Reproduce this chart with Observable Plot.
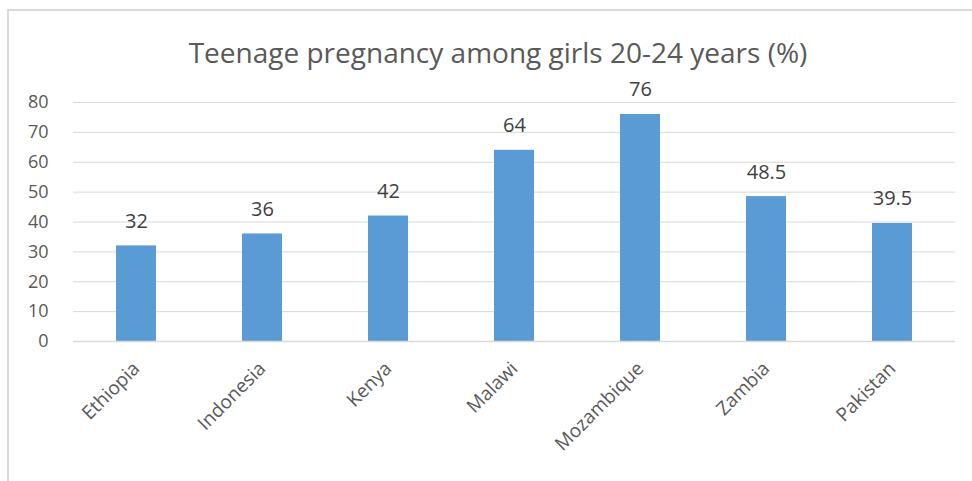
<!DOCTYPE html>
<html>
<head>
<meta charset="utf-8">
<script src="https://cdn.jsdelivr.net/npm/d3@7"></script>
<script src="https://cdn.jsdelivr.net/npm/@observablehq/plot@0.6"></script>
<style>
  html, body { margin: 0; padding: 0; background: #fff; }
  #wrap { position: relative; width: 972px; height: 481px; overflow: hidden; font-family: "Open Sans", sans-serif; }
  #frame { position: absolute; left: 7px; top: 9px; width: 1000px; height: 600px; border: 2px solid #D9D9D9; box-sizing: border-box; }
  #title { position: absolute; left: 8px; width: 980px; top: 33px; text-align: center; font-size: 28px; color: #595959; white-space: nowrap; }
  #chart { position: absolute; left: 0; top: 0; }
</style>
</head>
<body>
<div id="wrap">
  <div id="frame"></div>
  <div id="chart"></div>
  <div id="title">Teenage pregnancy among girls 20-24 years (%)</div>
</div>
<script>
const countries = ["Ethiopia", "Indonesia", "Kenya", "Malawi", "Mozambique", "Zambia", "Pakistan"];
const values = [32, 36, 42, 64, 76, 48.5, 39.5];
const yTicks = [0, 10, 20, 30, 40, 50, 60, 70, 80];

const data = countries.map((c, i) => ({country: c, value: values[i]}));

const chart = Plot.plot({
  width: 972,
  height: 481,
  marginTop: 102,
  marginBottom: 140,
  marginLeft: 73,
  marginRight: 17,
  style: {fontFamily: "Open Sans, sans-serif", fontSize: "18px", background: "transparent", overflow: "visible"},
  x: {domain: countries, paddingInner: 0.68, paddingOuter: 0.34, label: null},
  y: {domain: [0, 80], label: null},
  marks: [
    Plot.gridY(yTicks.filter(d => d > 0), {stroke: "#D9D9D9", strokeOpacity: 1, strokeWidth: 1}),
    Plot.barY(data, {x: "country", y: "value", fill: "#5B9BD5"}),
    Plot.ruleY([0], {stroke: "#D9D9D9", strokeWidth: 1.5}),
    Plot.axisY(yTicks, {tickSize: 0, tickPadding: 25, fontSize: 18, fill: "#595959", textAnchor: "end"}),
    Plot.axisX({tickSize: 0, tickPadding: 24, tickRotate: -45, fontSize: 19, fill: "#595959"}),
    Plot.text(data, {x: "country", y: "value", text: d => String(d.value), lineAnchor: "bottom", dy: -18, fontSize: 20, fill: "#404040"})
  ]
});
document.getElementById("chart").appendChild(chart);
</script>
</body>
</html>
